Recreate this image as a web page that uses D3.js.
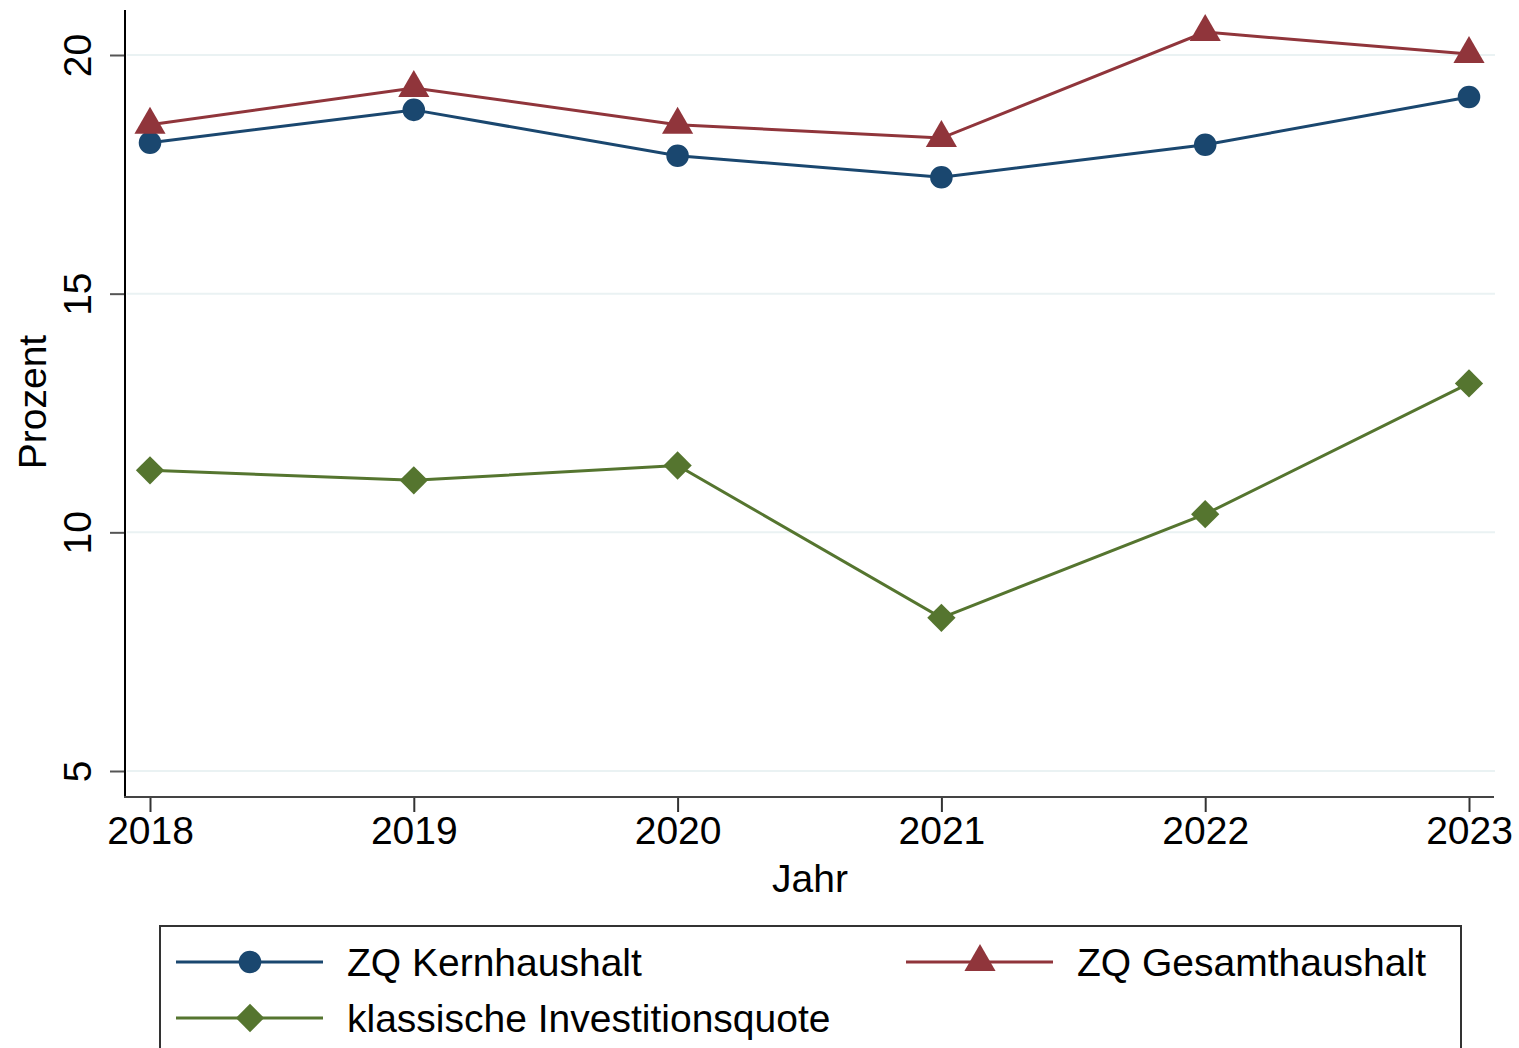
<!DOCTYPE html>
<html><head><meta charset="utf-8">
<script src="https://cdn.jsdelivr.net/npm/d3@7"></script>
<style>body{margin:0;background:#fff}svg{display:block}</style>
</head><body>
<script>
const years = [2018, 2019, 2020, 2021, 2022, 2023];
const kern = [18.16, 18.85, 17.89, 17.44, 18.12, 19.12];
const gesamt = [18.54, 19.31, 18.54, 18.26, 20.48, 20.02];
const klassisch = [11.30, 11.09, 11.40, 8.21, 10.38, 13.12];
const yTicks = [5, 10, 15, 20];
const seriesNames = ["ZQ Kernhaushalt", "ZQ Gesamthaushalt", "klassische Investitionsquote"];

const W = 1519, H = 1048;
const svg = d3.select("body").append("svg").attr("width", W).attr("height", H);
const font = "'Liberation Sans', Arial, sans-serif";

const x = d3.scaleLinear().domain([2018, 2023]).range([150, 1469]);
const y = d3.scaleLinear().domain([5, 20]).range([771, 55]);

// gridlines
svg.append("g").selectAll("line").data(yTicks).join("line")
  .attr("x1", 127).attr("x2", 1495)
  .attr("y1", d => y(d)).attr("y2", d => y(d))
  .attr("stroke", "#eaf2f3").attr("stroke-width", 2);

// y axis
const ya = svg.append("g").attr("transform", "translate(125,0)")
  .call(d3.axisLeft(y).tickValues(yTicks).tickSize(15).tickPadding(0).tickFormat(d3.format("d")));
ya.select(".domain").remove();
ya.selectAll(".tick line").attr("stroke", "#555").attr("stroke-width", 2);
ya.selectAll(".tick text").attr("font-family", font).attr("font-size", 39).attr("fill", "#000")
  .attr("text-anchor", "middle").attr("transform", "translate(-48,0) rotate(-90)").attr("x", 0).attr("dy", "0.35em");
svg.append("line").attr("x1", 125).attr("x2", 125).attr("y1", 10).attr("y2", 798)
  .attr("stroke", "#000").attr("stroke-width", 2);

// x axis
const xa = svg.append("g").attr("transform", "translate(0,797)")
  .call(d3.axisBottom(x).tickValues(years).tickSize(15).tickPadding(4).tickFormat(d3.format("d")));
xa.select(".domain").remove();
xa.selectAll(".tick line").attr("stroke", "#333").attr("stroke-width", 2);
xa.selectAll(".tick text").attr("font-family", font).attr("font-size", 39).attr("fill", "#000");
svg.append("line").attr("x1", 124).attr("x2", 1494).attr("y1", 797).attr("y2", 797)
  .attr("stroke", "#444").attr("stroke-width", 2);

// axis titles
svg.append("text").attr("x", 810).attr("y", 892).attr("text-anchor", "middle")
  .attr("font-family", font).attr("font-size", 39).text("Jahr");
svg.append("text").attr("transform", "translate(46,402) rotate(-90)").attr("text-anchor", "middle")
  .attr("font-family", font).attr("font-size", 39).text("Prozent");

const colors = ["#1a476f", "#90353b", "#55752f"];
const data = [kern, gesamt, klassisch];
const symbols = [d3.symbolCircle, d3.symbolTriangle, d3.symbolSquare];
const sizes = [400, 420, 400];
const rot = [0, 0, 45];

const line = d3.line().x((d, i) => x(years[i])).y(d => y(d));
data.forEach((vals, s) => {
  svg.append("path").datum(vals).attr("d", line).attr("fill", "none")
    .attr("stroke", colors[s]).attr("stroke-width", 3);
  svg.append("g").selectAll("path").data(vals).join("path")
    .attr("d", d3.symbol().type(symbols[s]).size(sizes[s]))
    .attr("transform", (d, i) => `translate(${x(years[i])},${y(d)}) rotate(${rot[s]})`)
    .attr("fill", colors[s]);
});

// legend
svg.append("rect").attr("x", 160).attr("y", 926).attr("width", 1301).attr("height", 140)
  .attr("fill", "#fff").attr("stroke", "#333").attr("stroke-width", 2);
const legPos = [[176, 962], [906, 962], [176, 1018]];
seriesNames.forEach((name, s) => {
  const [lx, ly] = legPos[s];
  const g = svg.append("g");
  g.append("line").attr("x1", lx).attr("x2", lx + 147).attr("y1", ly).attr("y2", ly)
    .attr("stroke", colors[s]).attr("stroke-width", 3);
  g.append("path").attr("d", d3.symbol().type(symbols[s]).size(sizes[s]))
    .attr("transform", `translate(${lx + 74},${ly}) rotate(${rot[s]})`).attr("fill", colors[s]);
  g.append("text").attr("x", lx + 171).attr("y", ly).attr("dy", "0.35em")
    .attr("font-family", font).attr("font-size", 39).text(name);
});
</script>
</body></html>
